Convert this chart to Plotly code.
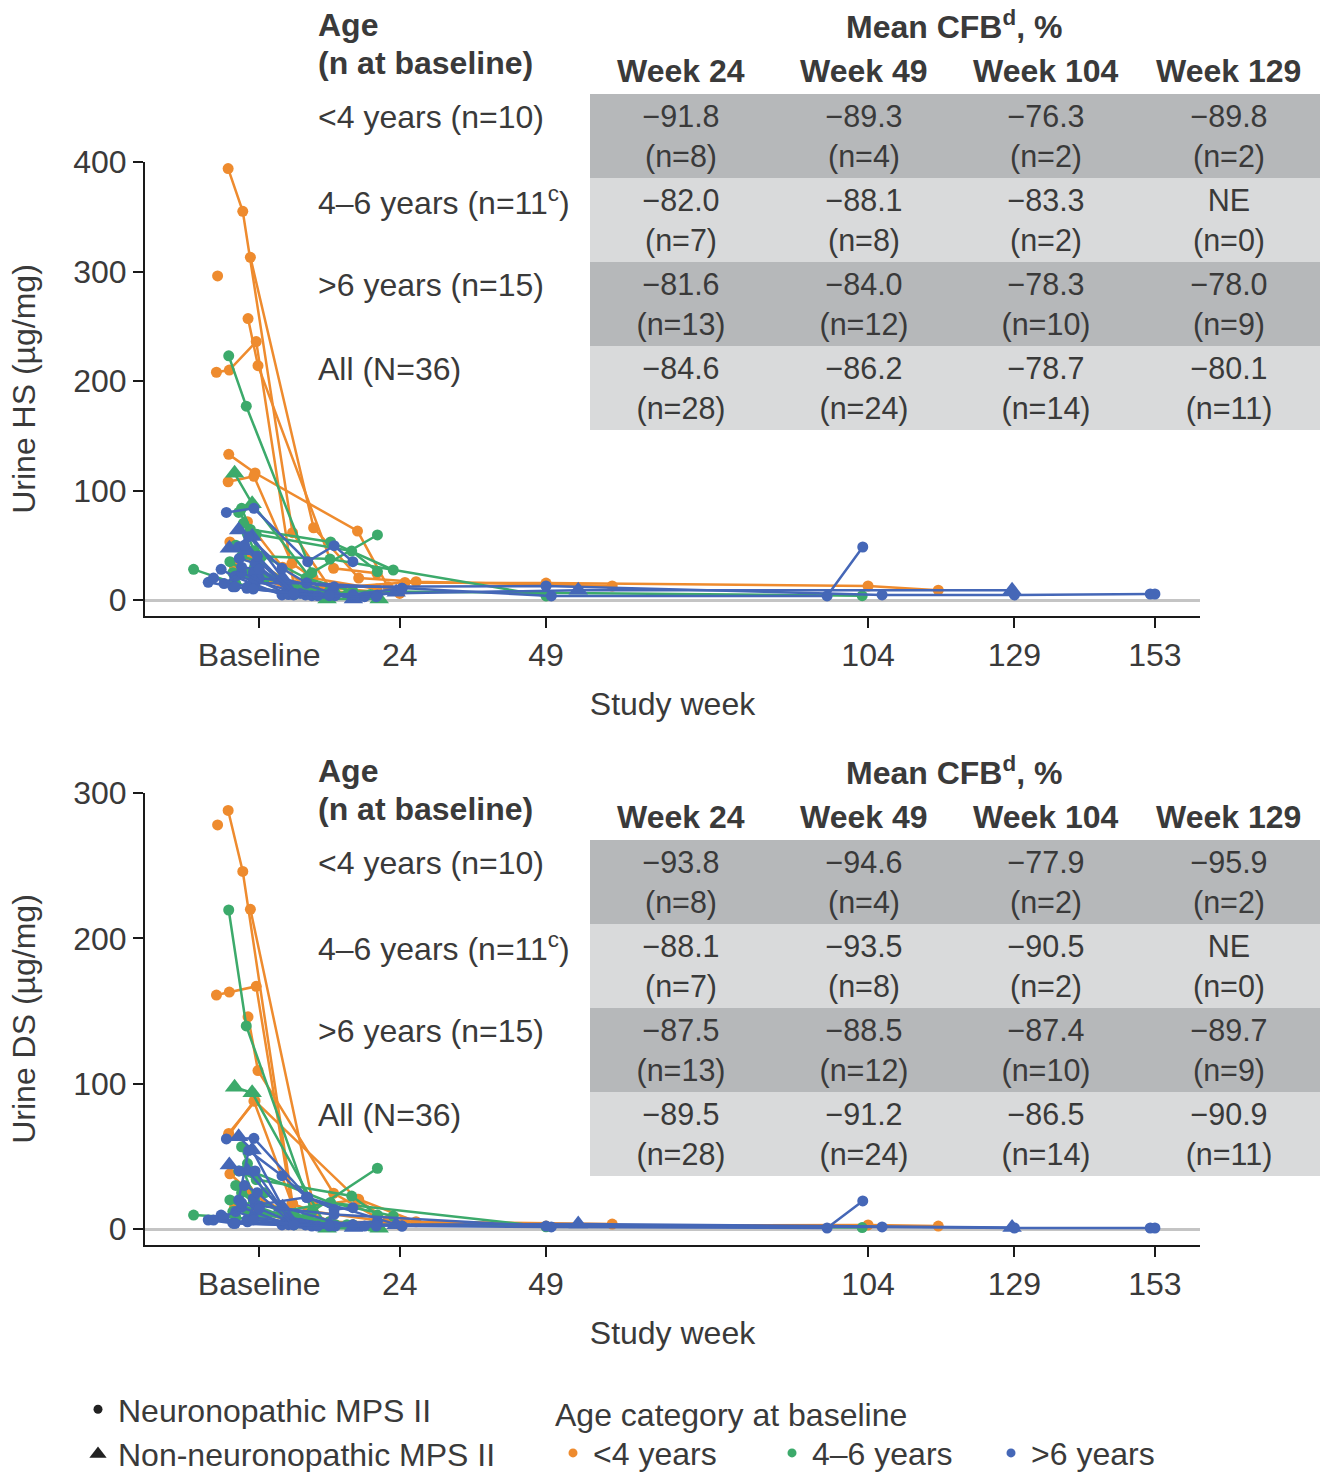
import plotly.graph_objects as go

# ---------------- data ----------------
# Patient trajectories: study week, urine HS, urine DS (µg/mg); one list per patient
lt4_weeks = [[-5.3, -2.8, 5.7, 12.1, 24.9, 49, 104, 116],
             [-1.5, 9.3, 17, 26.8, 60.3],
             [-7.1],
             [-1.9, -0.2, 12.7, 20.1],
             [-7.3, -5.1, -0.5, 5.9, 12.1],
             [-5.2, -0.7, 16.8, 22],
             [-5.3, -0.9, 5.6, 9.2, 20.1],
             [-2.0, 4, 8, 16],
             [-5.0, -2.0, 5.9, 12.1, 24],
             [-4.2, -0.5, 6, 13]]
lt4_hs = [[394, 355, 61.5, 11, 16, 15.5, 12.8, 9],
          [313, 66, 20, 16.7, 12.8],
          [296],
          [257, 214, 29, 24.4],
          [208, 210, 236, 13.7, 8],
          [133, 116, 63, 12],
          [108, 113, 33.5, 20, 10],
          [71.5, 30, 12, 6],
          [53, 40, 13.7, 11, 6],
          [30, 22, 8, 5]]
lt4_ds = [[288, 246, 17.7, 5, 4.8, 2, 2.8, 2],
          [220, 15.8, 20.4, 5, 3.4],
          [278],
          [146, 109, 24.6, 8],
          [161, 163, 167, 8.5, 4],
          [65.8, 88, 20.4, 6],
          [64, 88, 17.7, 12, 6],
          [27, 10, 5, 3],
          [38, 27, 8, 5, 3],
          [15, 12, 5, 3]]
lt4_nonneuro = [False] * 10

g46_weeks = [[-5.2, -2.2, 9, 20.2],
             [-4.2, -1.2, 11.6, 20.5],
             [-11.2, -4, 6],
             [-3.0, -1.5, 12.2, 22.9],
             [-3.5, -0.5, 15.8, 20.2],
             [-2.7, 0.5, 12.1, 49],
             [-4.0, -1.0, 8, 16, 103],
             [-3.0, 0, 6, 13],
             [-5.0, -2.0, 9, 19],
             [-2.0, 1, 6, 12],
             [-4.5, -0.8, 7, 15]]
g46_hs = [[223, 177, 25, 59.4],
          [115.7, 88, 1, 1],
          [28, 15, 5],
          [83.7, 64.5, 53, 27.4],
          [80, 60, 44.7, 26],
          [70, 40, 37.4, 3.7],
          [50, 45, 20, 8, 4],
          [40, 35, 10, 6],
          [35, 25, 8, 5],
          [60, 20, 12, 8],
          [25, 30, 9, 5]]
g46_ds = [[219.5, 139.7, 12, 41.8],
          [97.5, 93.8, 0.5, 0.5],
          [9.6, 8, 3],
          [56.6, 40, 18.1, 8.9],
          [40, 34, 22.7, 9.6],
          [40, 9.6, 18, 1.5],
          [30, 20, 8, 3, 1],
          [25, 15, 6, 3],
          [20, 12, 4, 2],
          [45, 25, 10, 5],
          [12, 20, 6, 3]]
g46_nonneuro = [False, True] + [False] * 9

gt6_weeks = [[-5.6, -0.9, 8.3, 12.8, 16],
             [-3.5, -1.2, 4, 16.1, 23.4],
             [-5.1, -2.0, 5, 12, 54.5, 128.6],
             [-3.5, -1.8, 3.9, 8.1],
             [-3.4, -0.7, 5.9],
             [-6.5, -4.2, 3.9, 20.2],
             [-8.7, -4.5, 7.9],
             [-2.1, -0.7, 8.1, 24.4, 49.9, 97, 103.1],
             [-1.0, 0, 12.8, 49, 106.4, 129, 152.2, 153],
             [-4.0, -1.0, 7, 13],
             [-6.0, -3.0, 5, 18],
             [-7.8, -2.0, 9],
             [-3.0, 0, 6, 16, 24.4],
             [-4.1, -1.0, 10, 20],
             [-2.5, -0.3, 5.9, 12]]
gt6_hs = [[80, 83.7, 35, 49.6, 35],
          [64, 58, 20, 1, 7],
          [47.2, 45, 10, 5, 9, 9],
          [48.7, 57.8, 29, 15.5],
          [38, 33.5, 4.6],
          [28, 21.3, 4.6, 4.6],
          [16.2, 12, 4.6],
          [10.7, 15.2, 15.5, 10.7, 3.7, 3.7, 48.4],
          [25, 20, 12, 12.8, 4.6, 4.6, 5.5, 5.5],
          [22, 18, 6, 4],
          [15, 25, 5, 3],
          [20, 12, 4],
          [30, 28, 6, 5, 10.7],
          [12, 10, 4, 3],
          [50, 40, 6, 4]]
gt6_ds = [[62, 62.4, 21.8, 13.5, 14.7],
          [63.5, 54.4, 15, 1, 3],
          [44, 40, 8, 3, 3.4, 1],
          [20, 54, 36.7, 21.8],
          [40, 40, 2.8],
          [9.6, 3.9, 2.8, 5],
          [6.2, 4, 2.8],
          [6.2, 16.5, 21.8, 2, 1.4, 0.7, 19.3],
          [21, 16, 10, 2, 1.4, 0.7, 0.7, 0.7],
          [12, 8, 4, 2],
          [8, 15, 3, 2],
          [6.2, 5, 2],
          [18, 14, 4, 3, 2],
          [3.9, 6.2, 2, 2],
          [30, 25, 3, 2]]
gt6_nonneuro = [False, True, True] + [False] * 12

# Table: mean change from baseline (%) and n
week_headers = ["Week 24", "Week 49", "Week 104", "Week 129"]
age_labels = ["<4 years (n=10)", "4–6 years (n=11<sup>c</sup>)", ">6 years (n=15)", "All (N=36)"]
hs_cfb = [["−91.8", "−89.3", "−76.3", "−89.8"],
          ["−82.0", "−88.1", "−83.3", "NE"],
          ["−81.6", "−84.0", "−78.3", "−78.0"],
          ["−84.6", "−86.2", "−78.7", "−80.1"]]
ds_cfb = [["−93.8", "−94.6", "−77.9", "−95.9"],
          ["−88.1", "−93.5", "−90.5", "NE"],
          ["−87.5", "−88.5", "−87.4", "−89.7"],
          ["−89.5", "−91.2", "−86.5", "−90.9"]]
n_counts = [["8", "4", "2", "2"],
            ["7", "8", "2", "0"],
            ["13", "12", "10", "9"],
            ["28", "24", "14", "11"]]
row_shade = [0, 1, 0, 1]

x_tickvals = [0, 24, 49, 104, 129, 153]
x_ticktext = ["Baseline", "24", "49", "104", "129", "153"]

# ---------------- style ----------------
W, H = 1322, 1472
FONT = "Arial, Liberation Sans, sans-serif"
TXT = "#3a3a3a"
FS = 32
CELL_FS = 30.5
COLORS = {"lt4": "#EE8B2E", "g46": "#3CAA6B", "gt6": "#4567B7"}
DARK, LIGHT = "#b6b8ba", "#d9dadb"

def px_x(p):
    return p / W

def px_y(p):
    return 1 - p / H

fig = go.Figure()

groups = [("lt4", lt4_weeks, lt4_hs, lt4_ds, lt4_nonneuro),
          ("g46", g46_weeks, g46_hs, g46_ds, g46_nonneuro),
          ("gt6", gt6_weeks, gt6_hs, gt6_ds, gt6_nonneuro)]

for key, wks, hs, ds, nn in groups:
    for w, h, d, tri in zip(wks, hs, ds, nn):
        sym = "triangle-up" if tri else "circle"
        size = 17 if tri else 11
        for yv, xa, ya in ((h, "x", "y"), (d, "x2", "y2")):
            fig.add_trace(go.Scatter(
                x=w, y=yv, xaxis=xa, yaxis=ya, mode="lines+markers",
                line=dict(color=COLORS[key], width=2.5),
                marker=dict(color=COLORS[key], symbol=sym, size=size),
                showlegend=False, hoverinfo="skip"))

# legend entries
fig.add_trace(go.Scatter(x=[None], y=[None], mode="markers", name="Neuronopathic MPS II",
                         marker=dict(color="#222", symbol="circle", size=9), legend="legend"))
fig.add_trace(go.Scatter(x=[None], y=[None], mode="markers", name="Non-neuronopathic MPS II",
                         marker=dict(color="#222", symbol="triangle-up", size=15), legend="legend"))
for key, nm in (("lt4", "<4 years"), ("g46", "4–6 years"), ("gt6", ">6 years")):
    fig.add_trace(go.Scatter(x=[None], y=[None], mode="markers", name=nm,
                             marker=dict(color=COLORS[key], symbol="circle", size=9), legend="legend2"))

# summary tables drawn as shaded grids on their own axes
annotations = []
for cfb, xa, ya in ((hs_cfb, "x3", "y3"), (ds_cfb, "x4", "y4")):
    z = [[s] * 4 for s in row_shade]
    txt = [[f"{cfb[i][j]}<br>(n={n_counts[i][j]})" for j in range(4)] for i in range(4)]
    fig.add_trace(go.Heatmap(
        z=z, x=[0, 1, 2, 3], y=[0, 1, 2, 3], text=txt, texttemplate="%{text}",
        textfont=dict(family=FONT, size=CELL_FS, color=TXT),
        colorscale=[[0, DARK], [1, LIGHT]], zmin=0, zmax=1, showscale=False,
        xgap=0, ygap=0, hoverinfo="skip", xaxis=xa, yaxis=ya))
    for j, hdr in enumerate(week_headers):
        annotations.append(dict(text=f"<b>{hdr}</b>", xref=xa, yref=f"{ya} domain", x=j, y=1,
                                yshift=23, xanchor="center", yanchor="middle"))
    for i, lab in enumerate(age_labels):
        annotations.append(dict(text=lab, xref="paper", yref=ya, x=px_x(316), y=i, yshift=19,
                                xanchor="left", yanchor="middle"))
    annotations.append(dict(text="<b>Age</b>", xref="paper", yref=f"{ya} domain", x=px_x(316), y=1,
                            yshift=69, xanchor="left", yanchor="middle"))
    annotations.append(dict(text="<b>(n at baseline)</b>", xref="paper", yref=f"{ya} domain", x=px_x(316),
                            y=1, yshift=31, xanchor="left", yanchor="middle"))
    annotations.append(dict(text="<b>Mean CFB<sup>d</sup>, %</b>", xref="paper", yref=f"{ya} domain",
                            x=px_x(954), y=1, yshift=69, xanchor="center", yanchor="middle"))

for a in annotations:
    a.update(showarrow=False, font=dict(family=FONT, size=FS, color=TXT))

xdom = [px_x(145), px_x(1200)]
xr = [-19.5, 160.7]
axis_common = dict(showline=True, linecolor="#1a1a1a", linewidth=2, ticks="outside", ticklen=10,
                   tickwidth=2, tickcolor="#1a1a1a", showgrid=False, mirror=False, tickangle=0,
                   automargin=False, tickfont=dict(family=FONT, size=FS, color=TXT))
tab_x = dict(domain=[px_x(590), px_x(1320)], range=[-0.5, 3.5], visible=False, fixedrange=True)
tab_y = dict(range=[3.5, -0.5], visible=False, fixedrange=True)

fig.update_layout(
    width=W, height=H, margin=dict(l=0, r=0, t=0, b=0, autoexpand=False),
    paper_bgcolor="white", plot_bgcolor="white",
    font=dict(family=FONT, size=FS, color=TXT),
    annotations=annotations,
    xaxis=dict(domain=xdom, range=xr, tickvals=x_tickvals, ticktext=x_ticktext, anchor="y",
               zeroline=False, title=dict(text="Study week", standoff=20,
                                          font=dict(family=FONT, size=FS, color=TXT)), **axis_common),
    yaxis=dict(domain=[px_y(616), px_y(162)], range=[-14.6, 400], tickvals=[0, 100, 200, 300, 400],
               anchor="x", zeroline=True, zerolinecolor="#c4c4c4", zerolinewidth=3,
               title=dict(text="Urine HS (µg/mg)", standoff=28,
                          font=dict(family=FONT, size=FS, color=TXT)), **axis_common),
    xaxis2=dict(domain=xdom, range=xr, tickvals=x_tickvals, ticktext=x_ticktext, anchor="y2",
                zeroline=False, title=dict(text="Study week", standoff=20,
                                           font=dict(family=FONT, size=FS, color=TXT)), **axis_common),
    yaxis2=dict(domain=[px_y(1245), px_y(793)], range=[-11, 300], tickvals=[0, 100, 200, 300],
                anchor="x2", zeroline=True, zerolinecolor="#c4c4c4", zerolinewidth=3,
                title=dict(text="Urine DS (µg/mg)", standoff=28,
                           font=dict(family=FONT, size=FS, color=TXT)), **axis_common),
    xaxis3=dict(anchor="y3", **tab_x),
    yaxis3=dict(domain=[px_y(430), px_y(94)], anchor="x3", **tab_y),
    xaxis4=dict(anchor="y4", **tab_x),
    yaxis4=dict(domain=[px_y(1176), px_y(840)], anchor="x4", **tab_y),
    legend=dict(x=px_x(78), y=-10 / H, xanchor="left", yanchor="bottom", orientation="v",
                font=dict(family=FONT, size=FS, color=TXT), bgcolor="rgba(0,0,0,0)",
                tracegroupgap=0, itemsizing="trace"),
    legend2=dict(x=px_x(553), y=-9 / H, xanchor="left", yanchor="bottom", orientation="h",
                 title=dict(text="Age category at baseline", side="top",
                            font=dict(family=FONT, size=FS, color=TXT)),
                 font=dict(family=FONT, size=FS, color=TXT), bgcolor="rgba(0,0,0,0)",
                 entrywidth=174, entrywidthmode="pixels", itemsizing="trace"),
)

fig.write_html("out.html", config={"displayModeBar": False},
               post_script="document.body.style.margin='0';document.body.style.padding='0';")
